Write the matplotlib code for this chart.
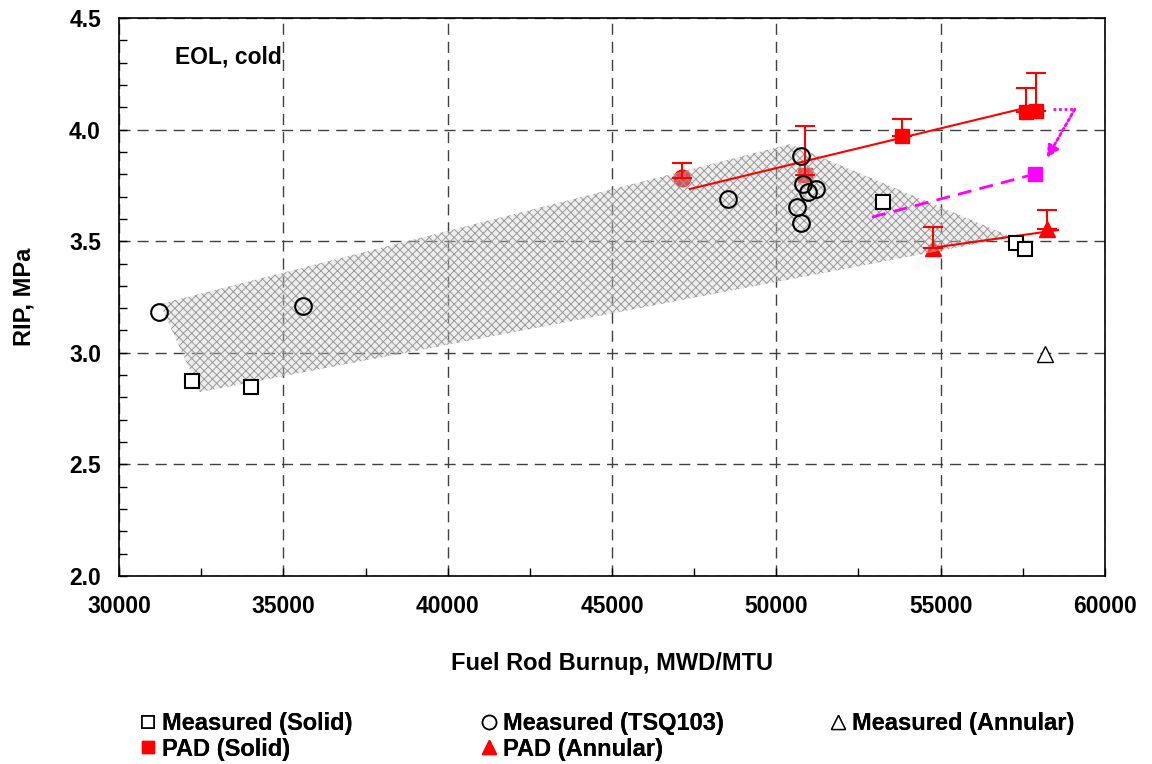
import matplotlib.pyplot as plt
from matplotlib.patches import Polygon
from matplotlib.ticker import MultipleLocator

plt.rcParams['font.family'] = ['Liberation Sans', 'DejaVu Sans']
plt.rcParams['font.weight'] = 'bold'
plt.rcParams['hatch.linewidth'] = 0.7

# measured data
solid_x = [32220, 34020, 53240, 57290, 57560]
solid_y = [2.874, 2.847, 3.676, 3.492, 3.465]
tsq_x = [31220, 35600, 48530, 50750, 50810, 50960, 51200, 50630, 50750]
tsq_y = [3.183, 3.210, 3.689, 3.882, 3.756, 3.720, 3.734, 3.653, 3.582]
ann_x = [58170]
ann_y = [2.995]

# PAD predictions (upper error only)
pad_solid_x = [50870, 53820, 57600, 57900]
pad_solid_y = [3.797, 3.971, 4.079, 4.083]
pad_solid_err = [0.219, 0.076, 0.107, 0.171]
pad_tsq_x = [47130]
pad_tsq_y = [3.783]
pad_tsq_err = [0.067]
pad_ann_x = [54760, 58230]
pad_ann_y = [3.470, 3.555]
pad_ann_err = [0.094, 0.085]

# trend lines
trend_solid_x = [47370, 57650]
trend_solid_y = [3.734, 4.100]
trend_ann_x = [54920, 58570]
trend_ann_y = [3.474, 3.550]
mag_x = [52910, 57870]
mag_y = [3.608, 3.801]
mag_pt_x = [57870]
mag_pt_y = [3.801]
arrow_x = [58415, 59084]
arrow_y = [4.092, 4.092]
arrow_end = (58232, 3.873)

# data band
band_x = [31250, 50410, 57170, 32460]
band_y = [3.219, 3.935, 3.519, 2.824]

fig = plt.figure(figsize=(11.52, 7.64), dpi=100)
ax = fig.add_axes([0.1033, 0.2461, 0.8559, 0.7303])

# PAD markers sit under the band, error bars above it
ekw = dict(fmt='none', ecolor='red', capsize=7, elinewidth=1.5, capthick=1.5, zorder=4)
ax.errorbar(pad_solid_x, pad_solid_y, yerr=[[0] * len(pad_solid_err), pad_solid_err], **ekw)
ax.errorbar(pad_tsq_x, pad_tsq_y, yerr=[[0], pad_tsq_err], **ekw)
ax.errorbar(pad_ann_x, pad_ann_y, yerr=[[0, 0], pad_ann_err], **ekw)
ax.plot(pad_solid_x, pad_solid_y, 's', color='red', ms=10, zorder=2)
ax.plot(pad_tsq_x, pad_tsq_y, 'o', color='red', ms=12, zorder=2)
ax.plot(pad_ann_x, pad_ann_y, '^', color='red', ms=11, zorder=2)

poly = Polygon(list(zip(band_x, band_y)), closed=True, facecolor=(0.82, 0.82, 0.82, 0.35),
               edgecolor='#9a9a9a', hatch='xxxx', linewidth=0, zorder=3)
ax.add_patch(poly)

ax.plot(trend_solid_x, trend_solid_y, color='red', lw=1.5, zorder=4)
ax.plot(trend_ann_x, trend_ann_y, color='red', lw=1.5, zorder=4)
ax.plot(mag_x, mag_y, color='magenta', lw=2, ls=(0, (5, 3)), zorder=4)
ax.plot(mag_pt_x, mag_pt_y, 's', color='magenta', ms=10, zorder=5)
ax.plot(arrow_x, arrow_y, color='magenta', lw=2, ls=(0, (1, 1)), zorder=4)
ax.annotate('', xy=arrow_end, xytext=(arrow_x[1], arrow_y[1]),
            arrowprops=dict(arrowstyle='-|>', color='magenta', lw=2, ls=(0, (1, 1)),
                            mutation_scale=18, shrinkA=0, shrinkB=0), zorder=4)

ax.plot(solid_x, solid_y, 's', mfc='white', mec='black', mew=1.5, ms=10, zorder=5)
ax.plot(tsq_x, tsq_y, 'o', mfc='none', mec='black', mew=1.5, ms=12, zorder=5)
ax.plot(ann_x, ann_y, '^', mfc='white', mec='black', mew=1.0, ms=11, zorder=5)

ax.set_xlim(30000, 60000)
ax.set_ylim(2.0, 4.5)
ax.xaxis.set_major_locator(MultipleLocator(5000))
ax.xaxis.set_minor_locator(MultipleLocator(2500))
ax.yaxis.set_major_locator(MultipleLocator(0.5))
ax.yaxis.set_minor_locator(MultipleLocator(0.1))
ax.yaxis.set_major_formatter(plt.FormatStrFormatter('%.1f'))
ax.tick_params(which='both', direction='in', labelsize=16.5, length=6, width=1)
ax.tick_params(axis='x', pad=14)
ax.tick_params(axis='y', pad=13)
ax.grid(True, which='major', color='#404040', ls=(0, (8, 5)), lw=1)
for s in ax.spines.values():
    s.set_linewidth(1.2)

ax.set_xlabel('Fuel Rod Burnup, MWD/MTU', fontsize=17, fontweight='bold', labelpad=24)
ax.set_ylabel('RIP, MPa', fontsize=17, fontweight='bold', labelpad=24)
ax.text(31700, 4.325, 'EOL, cold', fontsize=16.5, fontweight='bold', va='center')

h_ms = plt.Line2D([], [], ls='none', marker='s', mfc='white', mec='black', mew=1.2, ms=9)
h_ps = plt.Line2D([], [], ls='none', marker='s', color='red', ms=9)
h_mt = plt.Line2D([], [], ls='none', marker='o', mfc='white', mec='black', mew=1.2, ms=10)
h_pa = plt.Line2D([], [], ls='none', marker='^', color='red', ms=10)
h_ma = plt.Line2D([], [], ls='none', marker='^', mfc='white', mec='black', mew=1.0, ms=10)

# one legend per column so each column can sit where the original has it
columns = [
    ([h_ms, h_ps], ['Measured (Solid)', 'PAD (Solid)'], 0.11),
    ([h_mt, h_pa], ['Measured (TSQ103)', 'PAD (Annular)'], 0.406),
    ([h_ma], ['Measured (Annular)'], 0.709),
]
for handles, labels, x0 in columns:
    leg = fig.legend(handles, labels, loc='upper left', bbox_to_anchor=(x0, 0.08),
                     frameon=False, prop={'size': 17, 'weight': 'bold'},
                     handletextpad=0.1, labelspacing=0.1, borderaxespad=0, handlelength=1.0)
    fig.add_artist(leg)

fig.savefig('out.png', dpi=100)
